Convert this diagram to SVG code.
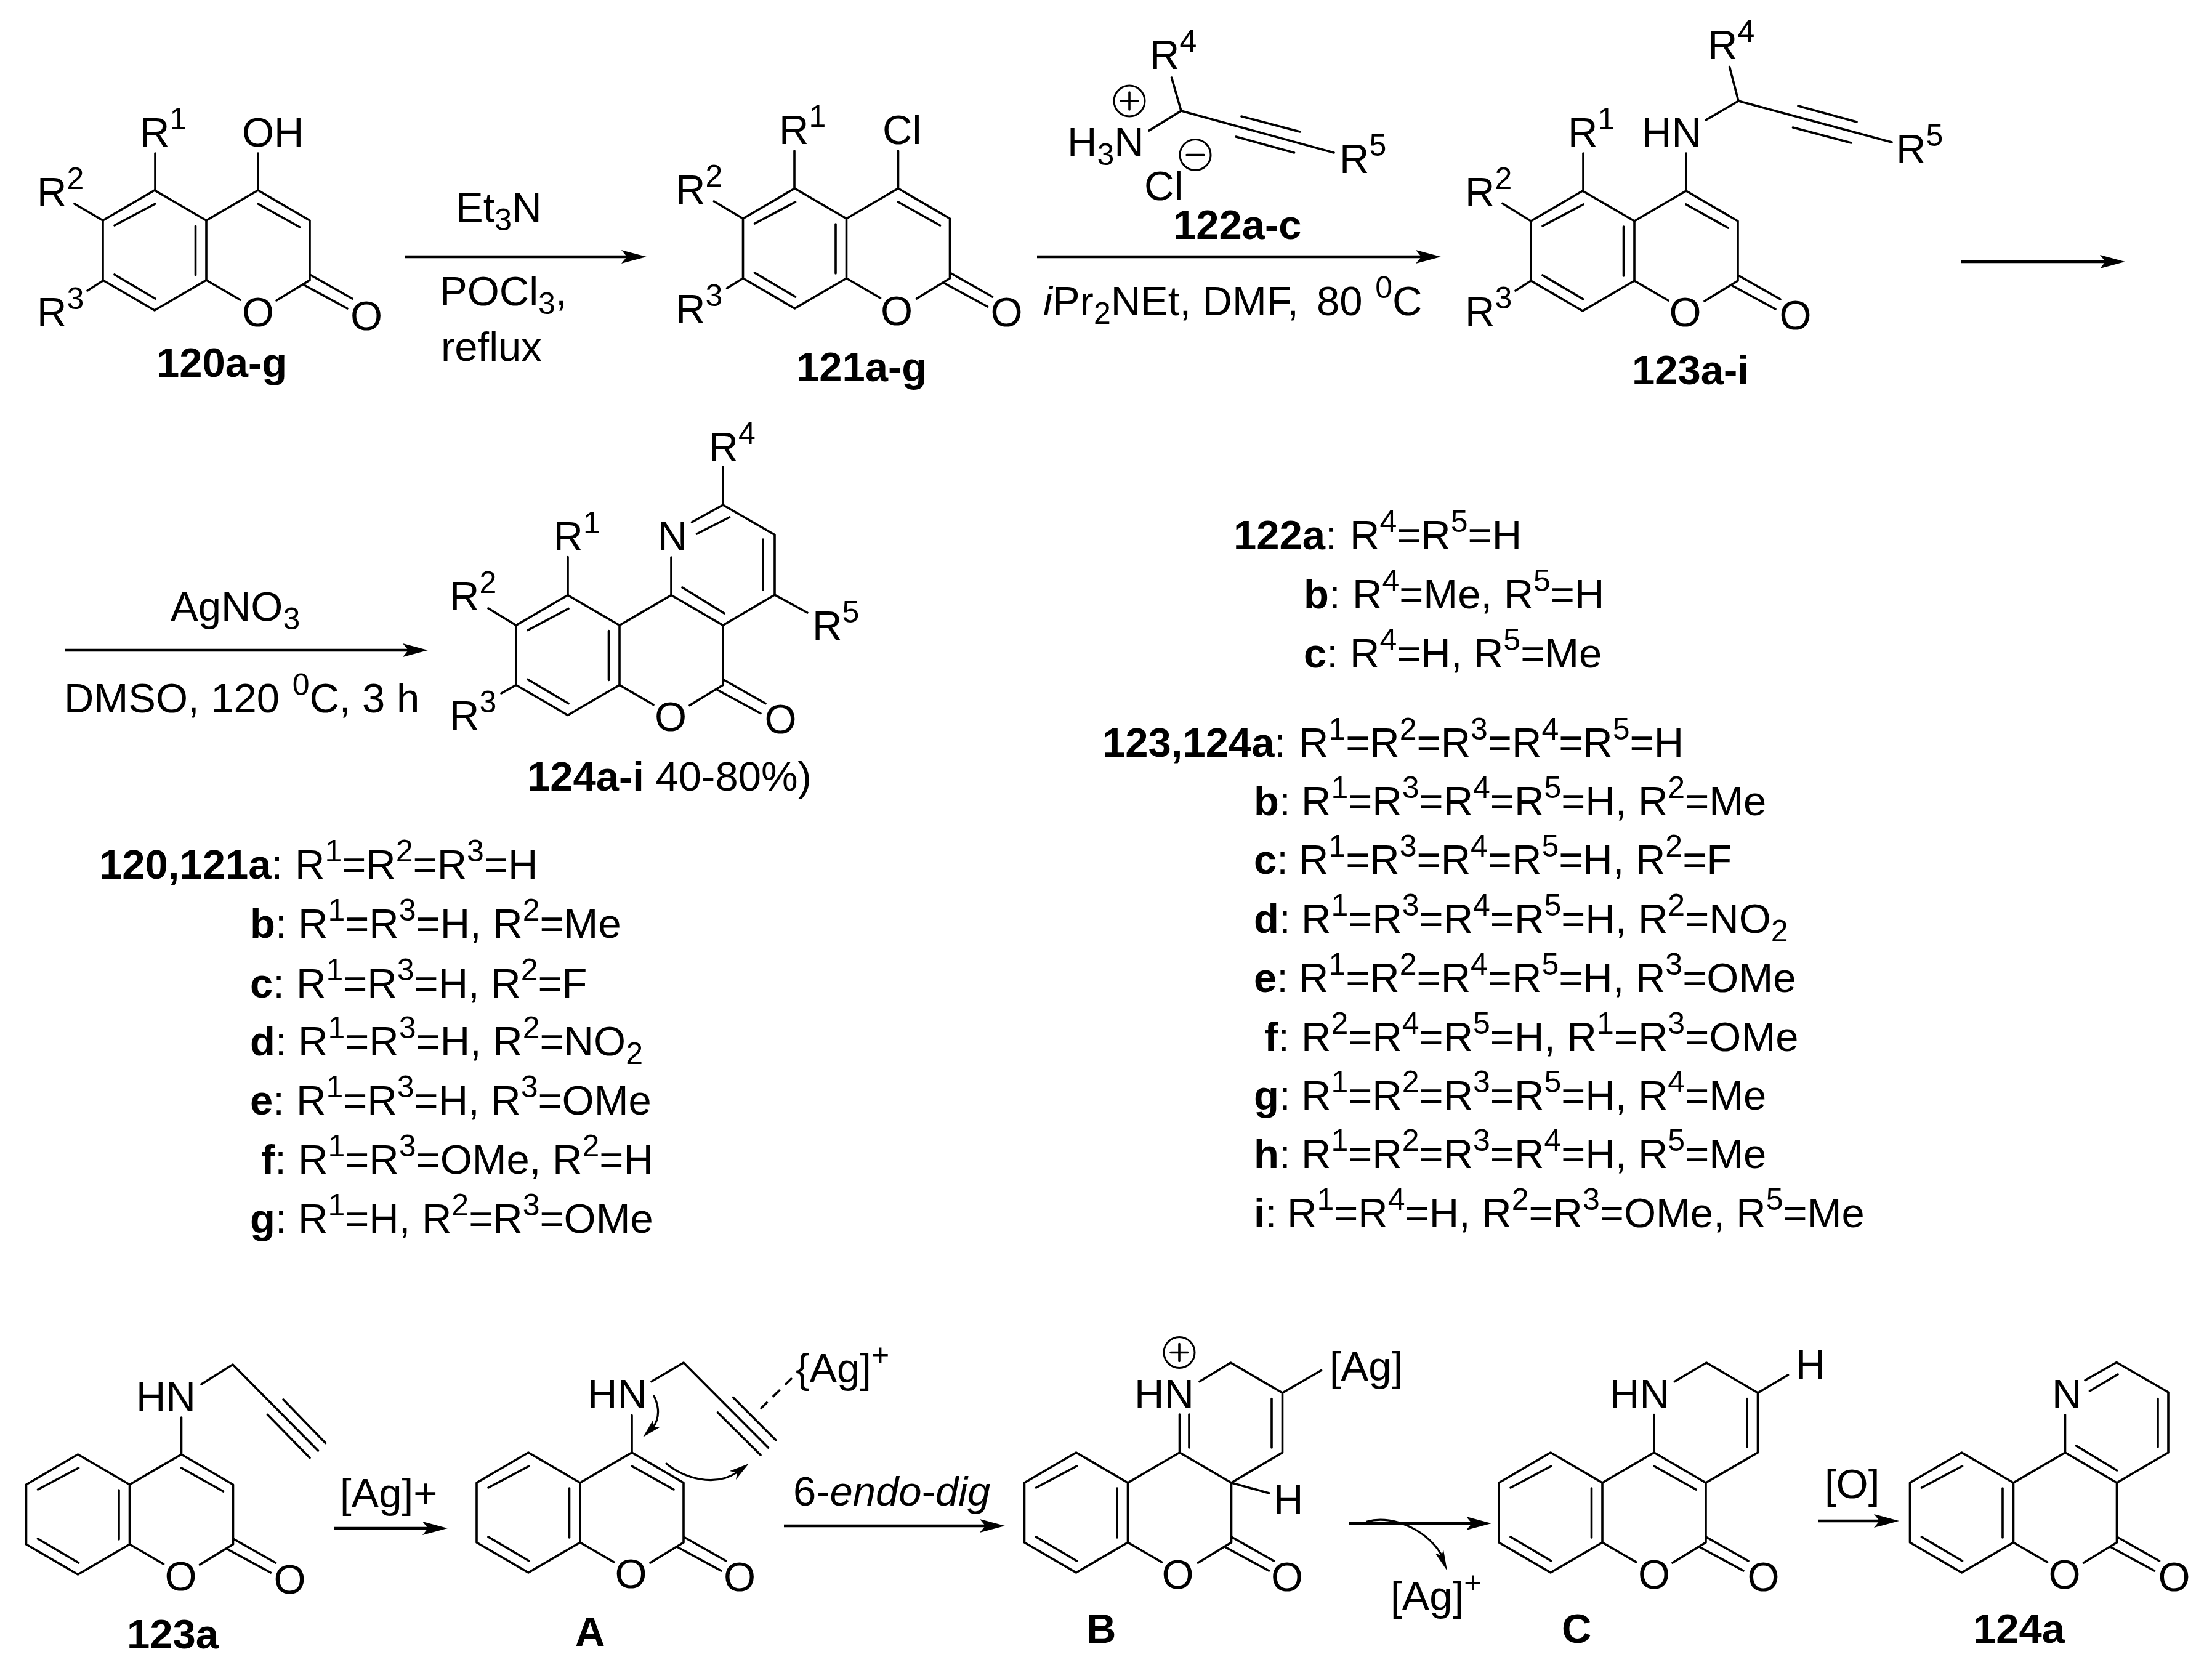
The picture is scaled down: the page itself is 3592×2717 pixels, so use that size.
<svg xmlns="http://www.w3.org/2000/svg" xmlns:xlink="http://www.w3.org/1999/xlink" width="3592" height="2717" viewBox="0 0 3592 2717">
<style>
text{font-family:"Liberation Sans",Arial,sans-serif;font-size:67px;fill:#000}
.b{font-weight:700}
.m{text-anchor:middle}
.i{font-style:italic}
.u{font-size:50px;baseline-shift:28px}
.d{font-size:50px;baseline-shift:-14px}
.bond{fill:none;stroke:#000;stroke-width:3.6;stroke-linecap:round;stroke-linejoin:round}
.arr{fill:none;stroke:#000;stroke-width:4.3;marker-end:url(#head)}
.curl{fill:none;stroke:#000;stroke-width:3.2;stroke-linecap:round}
.dash{stroke-dasharray:16 12;stroke-linecap:butt}
circle{fill:none;stroke:#000;stroke-width:3}
</style>
<defs>
<marker id="head" markerUnits="userSpaceOnUse" markerWidth="44" markerHeight="30" viewBox="0 0 44 30" refX="9" refY="15" orient="auto"><path d="M41,15 L0,4 L9,15 L0,26 Z" fill="#000"/></marker>
<g id="benzo"><path class="bond" d="M0,0 L-84,-49 L-168,0 L-168,97 L-84,146 L0,97 Z M-149,8 L-83,-27 M-149,88 L-83,127 M-17.5,9 L-17.5,89"/></g>
<g id="lactone"><path class="bond" d="M0,0 L84,-49 L168,0 L168,97 L114,130 M0,97 L55,129 M170,89 L237,127 M159,105 L229,143"/></g>
<path id="dbl34" class="bond" d="M84,-27 L152,11"/>
</defs>

<g id="connectors">
<line class="arr" x1="658" y1="417" x2="1018" y2="417"/>
<line class="arr" x1="1684" y1="417" x2="2308" y2="417"/>
<line class="arr" x1="3184" y1="425" x2="3419" y2="425"/>
<line class="arr" x1="105" y1="1056" x2="663" y2="1056"/>
<line class="arr" x1="542" y1="2482" x2="695" y2="2482"/>
<line class="arr" x1="1273" y1="2478" x2="1600" y2="2478"/>
<line class="arr" x1="2190" y1="2474" x2="2390" y2="2474"/>
<line class="arr" x1="2953" y1="2470" x2="3052" y2="2470"/>
<path class="curl" d="M1062,2267 C1072,2288 1070,2305 1060,2319"/>
<path d="M1044,2334 L1060,2307 L1062,2317 L1071,2318 Z" fill="#000"/>
<path class="curl" d="M1082,2377 C1110,2400 1160,2416 1197,2391"/>
<path d="M1216,2377 L1185,2389 L1197,2392 L1195,2403 Z" fill="#000"/>
<path class="curl" d="M2220,2471 C2265,2458 2325,2490 2343,2530"/>
<path d="M2350,2551 L2331,2523 L2341,2526 L2344,2517 Z" fill="#000"/>
</g>

<g id="m120">
<use href="#benzo" xlink:href="#benzo" x="335" y="358"/><use href="#lactone" xlink:href="#lactone" x="335" y="358"/><use href="#dbl34" xlink:href="#dbl34" x="335" y="358"/>
<path class="bond" d="M252,309 V249 M419,309 V249 M167,358 L121,331 M167,456 L142,472"/>
<text x="227" y="238">R<tspan class="u">1</tspan></text>
<text x="393" y="238">OH</text>
<text x="60" y="335">R<tspan class="u">2</tspan></text>
<text x="60" y="530">R<tspan class="u">3</tspan></text>
<text class="m" x="419" y="530">O</text><text class="m" x="595" y="536">O</text>
<text class="b" x="254" y="612">120a-g</text>
</g>

<g id="r1">
<text x="740" y="360">Et<tspan class="d">3</tspan>N</text>
<text x="714" y="496">POCl<tspan class="d">3</tspan>,</text>
<text x="716" y="586">reflux</text>
</g>

<g id="m121">
<use href="#benzo" xlink:href="#benzo" x="1374.5" y="355"/><use href="#lactone" xlink:href="#lactone" x="1374.5" y="355"/><use href="#dbl34" xlink:href="#dbl34" x="1374.5" y="355"/>
<path class="bond" d="M1290,306 V245 M1458.5,306 V245 M1206.5,355 L1159.5,327 M1206.5,452 L1180.5,468"/>
<text x="1265" y="234">R<tspan class="u">1</tspan></text>
<text x="1433" y="234">Cl</text>
<text x="1097" y="331">R<tspan class="u">2</tspan></text>
<text x="1097" y="525">R<tspan class="u">3</tspan></text>
<text class="m" x="1456" y="528">O</text><text class="m" x="1634.5" y="530">O</text>
<text class="b" x="1293" y="619">121a-g</text>
</g>

<g id="m122">
<path class="bond" d="M1918,180 L1902.5,126 M1918,180 L1866,212 M1918,180 L2166,248 M2016,189 L2111,214 M2007,222 L2101.5,248"/>
<text x="1867" y="112">R<tspan class="u">4</tspan></text>
<text x="1733" y="254">H<tspan class="d">3</tspan>N</text>
<circle cx="1834" cy="164" r="25"/><path class="bond" d="M1820,164 H1848 M1834,150 V178"/>
<circle cx="1941" cy="251.5" r="25"/><path class="bond" d="M1927,251.5 H1955"/>
<text x="1858" y="325">Cl</text>
<text x="2175" y="281">R<tspan class="u">5</tspan></text>
<text class="b" x="1905" y="388">122a-c</text>
</g>

<g id="r2">
<text x="1694" y="512"><tspan class="i">i</tspan>Pr<tspan class="d">2</tspan>NEt, DMF,</text>
<text x="2138" y="512">80 <tspan class="u" dx="2">0</tspan>C</text>
</g>

<g id="m123">
<use href="#benzo" xlink:href="#benzo" x="2654" y="359"/><use href="#lactone" xlink:href="#lactone" x="2654" y="359"/><use href="#dbl34" xlink:href="#dbl34" x="2654" y="359"/>
<path class="bond" d="M2571,310 V249 M2738,310 V249 M2486,359 L2440,330.5 M2486,456 L2461,472 M2823,164 L2808.5,108.5 M2823,164 L2770,195 M2823,164 L3072,231 M2920,172 L3015,198 M2911.5,207 L3006,232"/>
<text x="2546" y="238">R<tspan class="u">1</tspan></text>
<text x="2666" y="238">HN</text>
<text x="2379" y="335">R<tspan class="u">2</tspan></text>
<text x="2379" y="529">R<tspan class="u">3</tspan></text>
<text x="2773" y="96">R<tspan class="u">4</tspan></text>
<text x="3079" y="264.5">R<tspan class="u">5</tspan></text>
<text class="m" x="2736.5" y="530">O</text><text class="m" x="2915.5" y="535">O</text>
<text class="b" x="2650" y="623.5">123a-i</text>
</g>

<g id="r4">
<text x="277" y="1008">AgNO<tspan class="d">3</tspan></text>
<text x="104" y="1157">DMSO, 120 <tspan class="u" dx="2">0</tspan>C, 3 h</text>
</g>

<g id="m124">
<use href="#benzo" xlink:href="#benzo" x="1006" y="1015.5"/><use href="#lactone" xlink:href="#lactone" x="1006" y="1015.5"/>
<path class="bond" d="M1108,954 L1176,996 M1174,1015.5 L1258,966 V868.5 L1174,820 L1123.5,848 M1131.5,867 L1184.5,840 M1239,876 V957.5 M1090,966.5 V905 M1174,820 V758 M922,966.5 V904.5 M838,1015.5 L793,988 M838,1112.5 L814,1126 M1258,966 L1311,995"/>
<text x="1068" y="894">N</text>
<text x="1150.5" y="748.5">R<tspan class="u">4</tspan></text>
<text x="898.5" y="894">R<tspan class="u">1</tspan></text>
<text x="730" y="991">R<tspan class="u">2</tspan></text>
<text x="730" y="1185">R<tspan class="u">3</tspan></text>
<text x="1319" y="1039">R<tspan class="u">5</tspan></text>
<text class="m" x="1089" y="1186.5">O</text><text class="m" x="1267.5" y="1191">O</text>
<text x="856" y="1284"><tspan class="b">124a-i</tspan> 40-80%)</text>
</g>

<g id="legend120">
<text x="161" y="1427"><tspan class="b">120,121a</tspan>: <tspan x="479">R</tspan><tspan class="u">1</tspan>=R<tspan class="u">2</tspan>=R<tspan class="u">3</tspan>=H</text>
<text x="406" y="1522.5"><tspan class="b">b</tspan>: <tspan x="484">R</tspan><tspan class="u">1</tspan>=R<tspan class="u">3</tspan>=H, R<tspan class="u">2</tspan>=Me</text>
<text x="406" y="1619.5"><tspan class="b">c</tspan>: <tspan x="481">R</tspan><tspan class="u">1</tspan>=R<tspan class="u">3</tspan>=H, R<tspan class="u">2</tspan>=F</text>
<text x="406" y="1714"><tspan class="b">d</tspan>: <tspan x="484">R</tspan><tspan class="u">1</tspan>=R<tspan class="u">3</tspan>=H, R<tspan class="u">2</tspan>=NO<tspan class="d">2</tspan></text>
<text x="406" y="1810"><tspan class="b">e</tspan>: <tspan x="481">R</tspan><tspan class="u">1</tspan>=R<tspan class="u">3</tspan>=H, R<tspan class="u">3</tspan>=OMe</text>
<text x="424" y="1905.5"><tspan class="b">f</tspan>: <tspan x="484">R</tspan><tspan class="u">1</tspan>=R<tspan class="u">3</tspan>=OMe, R<tspan class="u">2</tspan>=H</text>
<text x="406" y="2001.5"><tspan class="b">g</tspan>: <tspan x="484">R</tspan><tspan class="u">1</tspan>=H, R<tspan class="u">2</tspan>=R<tspan class="u">3</tspan>=OMe</text>
</g>

<g id="legend122">
<text x="2003" y="892"><tspan class="b">122a</tspan>: <tspan x="2192">R</tspan><tspan class="u">4</tspan>=R<tspan class="u">5</tspan>=H</text>
<text x="2117" y="988"><tspan class="b">b</tspan>: <tspan x="2196">R</tspan><tspan class="u">4</tspan>=Me, R<tspan class="u">5</tspan>=H</text>
<text x="2117" y="1083.5"><tspan class="b">c</tspan>: <tspan x="2192">R</tspan><tspan class="u">4</tspan>=H, R<tspan class="u">5</tspan>=Me</text>
</g>

<g id="legend123">
<text x="1790" y="1228.5"><tspan class="b">123,124a</tspan>: <tspan x="2109">R</tspan><tspan class="u">1</tspan>=R<tspan class="u">2</tspan>=R<tspan class="u">3</tspan>=R<tspan class="u">4</tspan>=R<tspan class="u">5</tspan>=H</text>
<text x="2036" y="1324"><tspan class="b">b</tspan>: <tspan x="2113">R</tspan><tspan class="u">1</tspan>=R<tspan class="u">3</tspan>=R<tspan class="u">4</tspan>=R<tspan class="u">5</tspan>=H, R<tspan class="u">2</tspan>=Me</text>
<text x="2036" y="1419"><tspan class="b">c</tspan>: <tspan x="2109">R</tspan><tspan class="u">1</tspan>=R<tspan class="u">3</tspan>=R<tspan class="u">4</tspan>=R<tspan class="u">5</tspan>=H, R<tspan class="u">2</tspan>=F</text>
<text x="2036" y="1515"><tspan class="b">d</tspan>: <tspan x="2113">R</tspan><tspan class="u">1</tspan>=R<tspan class="u">3</tspan>=R<tspan class="u">4</tspan>=R<tspan class="u">5</tspan>=H, R<tspan class="u">2</tspan>=NO<tspan class="d">2</tspan></text>
<text x="2036" y="1611"><tspan class="b">e</tspan>: <tspan x="2109">R</tspan><tspan class="u">1</tspan>=R<tspan class="u">2</tspan>=R<tspan class="u">4</tspan>=R<tspan class="u">5</tspan>=H, R<tspan class="u">3</tspan>=OMe</text>
<text x="2053" y="1706.5"><tspan class="b">f</tspan>: <tspan x="2113">R</tspan><tspan class="u">2</tspan>=R<tspan class="u">4</tspan>=R<tspan class="u">5</tspan>=H, R<tspan class="u">1</tspan>=R<tspan class="u">3</tspan>=OMe</text>
<text x="2036" y="1801.5"><tspan class="b">g</tspan>: <tspan x="2113">R</tspan><tspan class="u">1</tspan>=R<tspan class="u">2</tspan>=R<tspan class="u">3</tspan>=R<tspan class="u">5</tspan>=H, R<tspan class="u">4</tspan>=Me</text>
<text x="2036" y="1897"><tspan class="b">h</tspan>: <tspan x="2113">R</tspan><tspan class="u">1</tspan>=R<tspan class="u">2</tspan>=R<tspan class="u">3</tspan>=R<tspan class="u">4</tspan>=H, R<tspan class="u">5</tspan>=Me</text>
<text x="2036" y="1993"><tspan class="b">i</tspan>: <tspan x="2090">R</tspan><tspan class="u">1</tspan>=R<tspan class="u">4</tspan>=H, R<tspan class="u">2</tspan>=R<tspan class="u">3</tspan>=OMe, R<tspan class="u">5</tspan>=Me</text>
</g>

<g id="m123a">
<use href="#benzo" xlink:href="#benzo" x="210.5" y="2411"/><use href="#lactone" xlink:href="#lactone" x="210.5" y="2411"/><use href="#dbl34" xlink:href="#dbl34" x="210.5" y="2411"/>
<path class="bond" d="M294.5,2362 V2302 M327,2248 L378,2216 L516.5,2356 M460,2273 L528.5,2343.5 M434.5,2297.5 L503,2367.5"/>
<text x="221" y="2291">HN</text>
<text class="m" x="293.5" y="2583">O</text><text class="m" x="470.5" y="2588">O</text>
<text class="b" x="206" y="2676.5">123a</text>
</g>
<text id="l1" x="552" y="2448">[Ag]+</text>

<g id="mA">
<use href="#benzo" xlink:href="#benzo" x="942" y="2408"/><use href="#lactone" xlink:href="#lactone" x="942" y="2408"/><use href="#dbl34" xlink:href="#dbl34" x="942" y="2408"/>
<path class="bond" d="M1026,2359 V2298.5 M1058,2243.5 L1110,2213 L1247.5,2351 M1190.5,2269.5 L1260,2339 M1165.5,2294 L1235,2363"/>
<path class="bond dash" d="M1235,2288 L1286,2238"/>
<text x="954" y="2286.5">HN</text>
<text x="1292" y="2245">{Ag]<tspan class="u">+</tspan></text>
<text class="m" x="1024.5" y="2579">O</text><text class="m" x="1201" y="2584">O</text>
<text class="b" x="934" y="2673">A</text>
</g>
<text id="l2" x="1288" y="2444.5">6-<tspan class="i">endo</tspan>-<tspan class="i">dig</tspan></text>

<g id="mB">
<use href="#benzo" xlink:href="#benzo" x="1831.5" y="2408"/><use href="#lactone" xlink:href="#lactone" x="1831.5" y="2408"/>
<path class="bond" d="M1915.5,2359 V2297 M1931,2297 V2351 M1948,2243.5 L1998.5,2213 L2082.5,2262 V2359 L1999.5,2408 M2065,2271.5 V2351 M2082.5,2262 L2145.5,2225.5 M1999.5,2408 L2061,2425"/>
<circle cx="1915" cy="2196.5" r="25"/><path class="bond" d="M1901,2196.5 H1929 M1915,2182.5 V2210.5"/>
<text x="1842" y="2286.5">HN</text>
<text x="2159" y="2242">[Ag]</text>
<text x="2068" y="2457.5">H</text>
<text class="m" x="1912.5" y="2580">O</text><text class="m" x="2090" y="2584">O</text>
<text class="b" x="1764" y="2668">B</text>
</g>
<text id="l3" x="2258" y="2615">[Ag]<tspan class="u">+</tspan></text>

<g id="mC">
<use href="#benzo" xlink:href="#benzo" x="2602" y="2408"/><use href="#lactone" xlink:href="#lactone" x="2602" y="2408"/><use href="#dbl34" xlink:href="#dbl34" x="2602" y="2408"/>
<path class="bond" d="M2686,2359 V2297.5 M2719.5,2243.5 L2771,2213 L2854.5,2262 V2359 L2770,2408 M2837,2271.5 V2350 M2854.5,2262 L2903.5,2233"/>
<text x="2614" y="2286.5">HN</text>
<text x="2916" y="2238.5">H</text>
<text class="m" x="2686" y="2580">O</text><text class="m" x="2863.5" y="2584">O</text>
<text class="b" x="2536" y="2668">C</text>
</g>
<text id="l4" x="2963" y="2433">[O]</text>

<g id="m124a">
<use href="#benzo" xlink:href="#benzo" x="3269.5" y="2408"/><use href="#lactone" xlink:href="#lactone" x="3269.5" y="2408"/>
<path class="bond" d="M3371.5,2348 L3437.5,2388 M3437.5,2408 L3521,2359 V2261 L3437,2212.5 L3386,2241.5 M3393.5,2259 L3439,2232 M3504,2271.5 V2350 M3353.5,2359 V2297.5"/>
<text x="3332" y="2286.5">N</text>
<text class="m" x="3352.5" y="2580">O</text><text class="m" x="3530.5" y="2584">O</text>
<text class="b" x="3204" y="2668">124a</text>
</g>
</svg>
